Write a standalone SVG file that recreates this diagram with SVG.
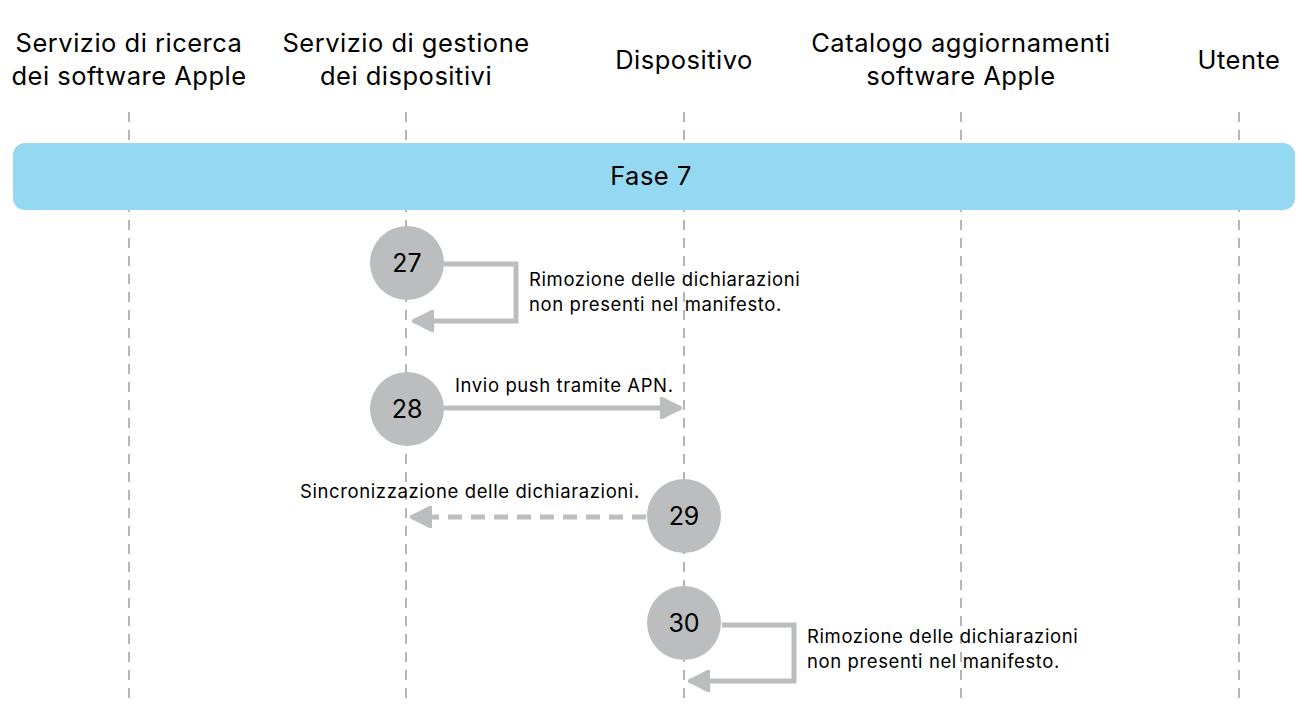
<svg xmlns="http://www.w3.org/2000/svg" width="1303" height="705" viewBox="0 0 1303 705">
<style>
.h{font-family:"Inter","Liberation Sans",sans-serif;font-size:25.5px;letter-spacing:0.5px;fill:#000;text-anchor:middle}
.t{font-family:"Inter","Liberation Sans",sans-serif;font-size:18.5px;letter-spacing:0.6px;fill:#000}
.n{font-family:"Inter","Liberation Sans",sans-serif;font-size:25px;fill:#000;text-anchor:middle}
.life{stroke:#8e8e8e;stroke-width:1.3;stroke-dasharray:10 8}
.c{fill:#bbbdbf}
.a{fill:none;stroke:#bbbdbf;stroke-width:5}
.d{stroke-dasharray:14 9}
</style>
<defs>
<marker id="ar" viewBox="0 0 10 10" refX="9" refY="5" markerWidth="4.4" markerHeight="4.4" orient="auto" markerUnits="strokeWidth">
<path d="M0,0 L10,5 L0,10 Z" fill="#bbbdbf" stroke="#bbbdbf" stroke-linejoin="round"/>
</marker>
</defs>
<rect width="1303" height="705" fill="#fff"/>
<g id="lifelines">
<line class="life" x1="129" y1="112" x2="129" y2="700"/>
<line class="life" x1="406" y1="112" x2="406" y2="700"/>
<line class="life" x1="684" y1="112" x2="684" y2="700"/>
<line class="life" x1="961" y1="112" x2="961" y2="700"/>
<line class="life" x1="1239" y1="112" x2="1239" y2="700"/>
</g>
<g id="headers">
<text class="h" x="129" y="52">Servizio di ricerca</text>
<text class="h" x="129" y="85">dei software Apple</text>
<text class="h" x="406" y="52">Servizio di gestione</text>
<text class="h" x="406" y="85">dei dispositivi</text>
<text class="h" x="684" y="69">Dispositivo</text>
<text class="h" x="961" y="52">Catalogo aggiornamenti</text>
<text class="h" x="961" y="85">software Apple</text>
<text class="h" x="1239" y="69">Utente</text>
</g>
<g id="fase">
<rect x="13" y="143" width="1282" height="67" rx="12" fill="#94d8f1"/>
<text class="h" x="651" y="185">Fase 7</text>
</g>
<g id="connectors">
<path class="a" d="M444,264 H516 V321 H414" marker-end="url(#ar)"/>
<path class="a" d="M444,408 H680" marker-end="url(#ar)"/>
<path class="a d" d="M646,517 H412" marker-end="url(#ar)"/>
<path class="a" d="M722,625 H794 V681 H690" marker-end="url(#ar)"/>
</g>
<g id="labels">
<text class="t" x="529" y="286">Rimozione delle dichiarazioni</text>
<text class="t" x="529" y="311">non presenti nel manifesto.</text>
<text class="t" x="455" y="392">Invio push tramite APN.</text>
<text class="t" x="300" y="498">Sincronizzazione delle dichiarazioni.</text>
<text class="t" x="807" y="643">Rimozione delle dichiarazioni</text>
<text class="t" x="807" y="668">non presenti nel manifesto.</text>
</g>
<g id="n27"><circle class="c" cx="407" cy="263" r="37"/><text class="n" x="407" y="272">27</text></g>
<g id="n28"><circle class="c" cx="407" cy="409" r="37"/><text class="n" x="407" y="418">28</text></g>
<g id="n29"><circle class="c" cx="684" cy="516" r="37"/><text class="n" x="684" y="525">29</text></g>
<g id="n30"><circle class="c" cx="684" cy="623" r="37"/><text class="n" x="684" y="632">30</text></g>
</svg>
